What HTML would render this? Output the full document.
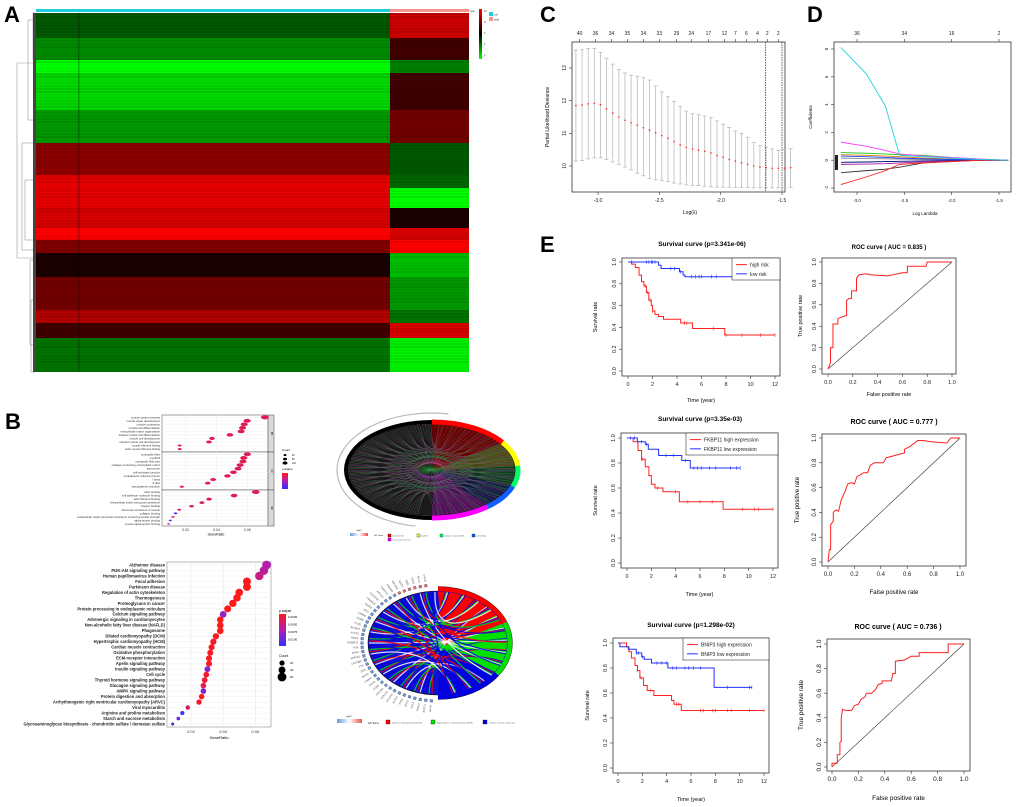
<!DOCTYPE html>
<html><head><meta charset="utf-8"><title>Figure</title>
<style>html,body{margin:0;padding:0;background:#fff;}svg{display:block;}text{font-family:"Liberation Sans",sans-serif;}</style>
</head><body>
<svg id="fig" xmlns="http://www.w3.org/2000/svg" width="1020" height="807" viewBox="0 0 1020 807">
<defs>
<linearGradient id="hmgrad" x1="0" y1="0" x2="0" y2="1"><stop offset="0" stop-color="#ff0000"/><stop offset="0.5" stop-color="#000"/><stop offset="1" stop-color="#00ff00"/></linearGradient>
<linearGradient id="pgrad" x1="0" y1="0" x2="0" y2="1"><stop offset="0" stop-color="#ff1a1a"/><stop offset="0.5" stop-color="#b01fb0"/><stop offset="1" stop-color="#3030ff"/></linearGradient>
<linearGradient id="fcgrad" x1="0" y1="0" x2="1" y2="0"><stop offset="0" stop-color="#6a9be8"/><stop offset="0.5" stop-color="#fff"/><stop offset="1" stop-color="#f05050"/></linearGradient>
</defs>
<text x="4" y="22" font-size="22" font-weight="bold">A</text>
<text x="540" y="22" font-size="22" font-weight="bold">C</text>
<text x="807" y="22" font-size="22" font-weight="bold">D</text>
<text x="540" y="252" font-size="22" font-weight="bold">E</text>
<text x="5" y="429" font-size="22" font-weight="bold">B</text>
</svg>
<script>
/* ---------- DATA ---------- */
const hmBandStart=[13,38,60,73,110,143,175,188,208,228,240,253,277,310,323,338];
const hmBandEnd=[38,60,73,110,143,175,188,208,228,240,253,277,310,323,338,372];
const hmLeftVal=[-0.35,-0.55,-1,-0.85,-0.6,0.55,0.9,0.9,0.85,1,0.5,0.1,0.45,0.7,0.25,-0.45];
const hmRightVal=[0.8,0.25,-0.5,0.25,0.45,-0.35,-0.4,-1,0.1,0.85,1,-0.75,-0.6,-0.45,0.85,-0.95];
const cvLambda=[-3.18,-3.13,-3.08,-3.03,-2.98,-2.93,-2.88,-2.83,-2.78,-2.73,-2.68,-2.63,-2.58,-2.53,-2.48,-2.43,-2.38,-2.33,-2.28,-2.23,-2.18,-2.13,-2.08,-2.03,-1.98,-1.93,-1.88,-1.83,-1.78,-1.73,-1.68,-1.63,-1.58,-1.53,-1.48,-1.43];
const cvMean=[11.85,11.87,11.9,11.92,11.88,11.75,11.62,11.5,11.4,11.32,11.25,11.17,11.1,11.02,10.93,10.85,10.75,10.65,10.57,10.52,10.48,10.45,10.4,10.32,10.27,10.2,10.15,10.1,10.05,10.0,9.97,9.95,9.93,9.93,9.93,9.95];
const cvUpper=[13.55,13.56,13.6,13.6,13.48,13.3,13.12,12.95,12.85,12.78,12.75,12.7,12.63,12.45,12.27,12.12,11.98,11.82,11.68,11.6,11.57,11.53,11.48,11.38,11.28,11.18,11.07,11.0,10.88,10.72,10.62,10.58,10.52,10.48,10.5,10.53];
const cvLower=[10.15,10.17,10.22,10.25,10.25,10.2,10.12,10.05,9.97,9.88,9.78,9.7,9.62,9.58,9.56,9.52,9.48,9.45,9.42,9.4,9.4,9.38,9.36,9.35,9.35,9.35,9.35,9.34,9.34,9.33,9.33,9.33,9.33,9.33,9.33,9.35];
const cvTopLabels=["40","36","34","35","34","33","29","24","17","12","7","6","4","2","2"];
const cvTopLambda=[-3.15,-3.02,-2.89,-2.76,-2.63,-2.5,-2.36,-2.24,-2.1,-1.97,-1.88,-1.79,-1.70,-1.62,-1.53];
const cvCutLambda=[-1.633,-1.50];
const dLambda=[-3.17,-2.9,-2.7,-2.55,-2.3,-2.0,-1.7,-1.4];
const dCyan=[8.1,6.2,3.9,0.35,0.25,0.15,0.05,0];
const dPink=[1.3,1.0,0.7,0.45,0.3,0.2,0.08,0];
const dRed=[-1.75,-1.2,-0.75,-0.3,-0.2,-0.1,0,0];
const dBlack=[-0.9,-0.75,-0.65,-0.5,-0.2,-0.1,0,0];
const dGreen=[0.55,0.5,0.45,0.4,0.35,0.2,0.08,0];
const dBlue=[0.3,0.25,0.2,0.15,0.1,0.05,0.02,0];
const dPurple=[-0.3,-0.28,-0.25,-0.2,-0.12,-0.06,-0.02,0];
const dGray=[0.15,0.12,0.1,0.08,0.05,0.03,0.01,0];
const dNavy=[-0.15,-0.13,-0.1,-0.08,-0.05,-0.03,-0.01,0];
const dOrange=[0.4,0.35,0.3,0.25,0.15,0.08,0.03,0];
const dTopLabels=["36","34","16","2"];
const dTopLambda=[-3.0,-2.5,-2.0,-1.5];
const s1HighT=[0,0.3,0.6,0.9,1.1,1.3,1.5,1.7,1.9,2.0,2.2,2.5,2.9,4.3,5.26,7.9,12];
const s1HighS=[1,0.98,0.95,0.88,0.82,0.78,0.72,0.65,0.6,0.55,0.52,0.5,0.475,0.44,0.39,0.33,0.33];
const s1HighC=[1.4,1.6,1.8,2.0,4.6,4.8,7.0,8.0,9.3,10.8,12];
const s1LowT=[0,2.5,2.7,2.85,4.2,4.5,4.65,10.8];
const s1LowS=[1,0.97,0.94,0.94,0.91,0.88,0.865,0.865];
const s1LowC=[0.3,1.5,1.7,1.9,2.0,2.2,3.5,3.8,4.3,5.2,5.5,5.8,6,6.8,7.2,8.5,9.1,9.5,10.8];
const s2HighT=[0,0.5,0.9,1.2,1.5,1.8,2.0,2.3,2.95,4.3,7.9,12];
const s2HighS=[1,0.97,0.9,0.83,0.77,0.7,0.63,0.6,0.57,0.49,0.43,0.43];
const s2HighC=[1.2,1.3,2.5,4.0,5.0,6.0,7.0,9.5,10.5,10.8,12];
const s2LowT=[0,0.85,1.5,1.75,2.6,4.5,5.2,9.3];
const s2LowS=[1,0.97,0.95,0.91,0.86,0.82,0.76,0.76];
const s2LowC=[0.3,0.6,1.2,1.6,3.2,3.8,4.8,5.5,5.8,6.1,6.8,7.3,8.5,9.0,9.3];
const s3HighT=[0,0.7,0.9,1.1,1.4,1.6,1.8,2.1,2.4,2.95,4.4,4.6,5.2,12];
const s3HighS=[1,0.97,0.93,0.88,0.82,0.78,0.72,0.66,0.62,0.58,0.54,0.51,0.46,0.46];
const s3HighC=[1.6,1.9,2.7,4.8,5.0,6.8,7.0,7.8,8.0,9.0,9.3,10.8,12];
const s3LowT=[0,0.16,0.85,1.5,1.95,2.15,2.75,4.1,7.9,11];
const s3LowS=[1,0.97,0.95,0.92,0.89,0.87,0.84,0.8,0.645,0.645];
const s3LowC=[1.5,1.7,2.0,3.2,3.6,4.0,4.5,4.8,5.5,5.8,6.2,6.8,9.0,10.8,11];
const roc1Fpr=[0,0.01,0.02,0.02,0.04,0.04,0.08,0.08,0.12,0.15,0.15,0.17,0.19,0.19,0.23,0.23,0.25,0.3,0.35,0.48,0.6,0.64,0.64,0.79,0.8,0.86,1];
const roc1Tpr=[0,0.03,0.06,0.2,0.2,0.42,0.42,0.47,0.49,0.5,0.64,0.66,0.66,0.73,0.73,0.85,0.88,0.89,0.88,0.87,0.9,0.9,0.96,0.96,1.0,1.0,1];
const roc2Fpr=[0,0.01,0.02,0.02,0.04,0.04,0.06,0.08,0.1,0.13,0.15,0.18,0.2,0.22,0.24,0.27,0.3,0.32,0.35,0.42,0.44,0.58,0.58,0.62,0.68,0.72,0.78,0.9,0.93,1];
const roc2Tpr=[0,0.1,0.1,0.3,0.33,0.4,0.42,0.41,0.5,0.57,0.63,0.64,0.63,0.69,0.7,0.72,0.72,0.78,0.8,0.8,0.84,0.88,0.91,0.93,0.98,0.98,0.97,0.96,1.0,1];
const roc3Fpr=[0,0,0.04,0.04,0.06,0.06,0.07,0.07,0.08,0.1,0.15,0.17,0.2,0.22,0.25,0.26,0.3,0.33,0.35,0.38,0.38,0.45,0.46,0.48,0.48,0.55,0.6,0.66,0.66,0.88,0.88,1];
const roc3Tpr=[0,0.03,0.03,0.1,0.1,0.2,0.21,0.4,0.47,0.46,0.46,0.5,0.51,0.55,0.57,0.6,0.6,0.63,0.67,0.68,0.7,0.7,0.76,0.76,0.86,0.87,0.9,0.9,0.93,0.93,1.0,1];
const goTerms=["muscle system process","muscle organ development","muscle contraction","muscle cell differentiation","extracellular matrix organization","striated muscle cell differentiation","muscle cell development","striated muscle cell development","muscle filament sliding","actin-myosin filament sliding","contractile fiber","myofibril","contractile fiber part","collagen-containing extracellular matrix","sarcomere","cell-substrate junction","endoplasmic reticulum lumen","I band","Z disc","sarcoplasmic reticulum","actin binding","cell adhesion molecule binding","actin filament binding","extracellular matrix structural constituent","integrin binding","structural constituent of muscle","collagen binding","extracellular matrix structural constituent conferring tensile strength","alpha-actinin binding","muscle alpha-actinin binding"];
const goRatio=[0.0714,0.0599,0.058,0.0569,0.056,0.0487,0.0371,0.0351,0.0161,0.0161,0.0600,0.0577,0.0572,0.0553,0.0540,0.0510,0.0471,0.0378,0.0343,0.0175,0.0655,0.0514,0.0352,0.0305,0.0238,0.0158,0.0134,0.0117,0.0100,0.0089];
const goPadj=[0.2,0.2,0.2,0.2,0.2,0.2,0.2,0.2,0.2,0.2,0.2,0.2,0.2,0.2,0.2,0.2,0.2,0.2,0.2,0.2,0.2,0.2,0.2,0.2,0.25,0.3,0.9,0.3,0.95,0.45];
const goCount=[110,92,89,87,86,75,57,54,25,25,92,89,88,85,83,78,72,58,53,27,101,79,54,47,37,24,21,18,15,14];
const goFacets=["BP","CC","MF"];
const kgTerms=["Alzheimer disease","PI3K-Akt signaling pathway","Human papillomavirus infection","Focal adhesion","Parkinson disease","Regulation of actin cytoskeleton","Thermogenesis","Proteoglycans in cancer","Protein processing in endoplasmic reticulum","Calcium signaling pathway","Adrenergic signaling in cardiomyocytes","Non-alcoholic fatty liver disease (NAFLD)","Phagosome","Dilated cardiomyopathy (DCM)","Hypertrophic cardiomyopathy (HCM)","Cardiac muscle contraction","Oxidative phosphorylation","ECM-receptor interaction","Apelin signaling pathway","Insulin signaling pathway","Cell cycle","Thyroid hormone signaling pathway","Glucagon signaling pathway","AMPK signaling pathway","Protein digestion and absorption","Arrhythmogenic right ventricular cardiomyopathy (ARVC)","Viral myocarditis","Arginine and proline metabolism","Starch and sucrose metabolism","Glycosaminoglycan biosynthesis - chondroitin sulfate / dermatan sulfate"];
const kgRatio=[0.067,0.0654,0.0625,0.0548,0.0548,0.050,0.0486,0.046,0.0428,0.040,0.0382,0.0382,0.0382,0.0355,0.0339,0.0328,0.032,0.0312,0.0312,0.0302,0.0295,0.0285,0.0277,0.0277,0.0266,0.025,0.018,0.0146,0.0121,0.0086];
const kgPadj=[0.0055,0.005,0.0042,0.001,0.001,0.001,0.001,0.001,0.001,0.0065,0.001,0.001,0.001,0.0015,0.0015,0.0012,0.0012,0.0012,0.0015,0.007,0.0015,0.002,0.0025,0.0072,0.001,0.0015,0.0035,0.0098,0.0085,0.0088];
const kgCount=[64,62,59,52,52,48,46,44,41,38,36,36,36,34,32,31,30,30,30,29,28,27,26,26,25,24,17,14,11,8];

/* ---------- HELPERS ---------- */
const NS='http://www.w3.org/2000/svg';
const svg=document.getElementById('fig');
function mk(tag,attrs,parent){const e=document.createElementNS(NS,tag);for(const k in attrs)e.setAttribute(k,attrs[k]);(parent||svg).appendChild(e);return e;}
function txt(x,y,s,fs,opts,parent){const e=mk('text',Object.assign({x:x,y:y,'font-size':fs},opts||{}),parent);e.textContent=s;return e;}
function lin(d0,d1,r0,r1){return v=>r0+(v-d0)/(d1-d0)*(r1-r0);}
function grp(name){const g=mk('g',{});return g;}
function hmColor(v){if(v>=0)return 'rgb('+Math.round(255*v)+',0,0)';return 'rgb(0,'+Math.round(-255*v)+',0)';}
function padjColor(t){t=Math.max(0,Math.min(1,t));const a=[255,26,26],b=[176,31,176],c=[48,48,255];let r;if(t<0.5){const u=t/0.5;r=a.map((x,i)=>x+(b[i]-x)*u);}else{const u=(t-0.5)/0.5;r=b.map((x,i)=>x+(c[i]-x)*u);}return 'rgb('+r.map(Math.round).join(',')+')';}

function rAxes(g,box,xs,ys,xticks,yticks,fs,xfmt,yfmt){
  const r=mk('rect',{x:box.x0,y:box.y0,width:box.x1-box.x0,height:box.y1-box.y0,fill:'none',stroke:'#333','stroke-width':0.8},g);
  
  xticks.forEach(v=>{const X=xs(v);
    const t=mk('line',{x1:X,x2:X,y1:box.y1,y2:box.y1+3,stroke:'#333','stroke-width':0.6},g);
    
    const l=txt(X,box.y1+10,xfmt(v),fs,{'text-anchor':'middle',fill:'#222'},g);
    });
  yticks.forEach(v=>{const Y=ys(v);
    const t=mk('line',{x1:box.x0-3,x2:box.x0,y1:Y,y2:Y,stroke:'#333','stroke-width':0.6},g);
    
    const l=txt(box.x0-6,Y,yfmt(v),fs,{'text-anchor':'middle',transform:'rotate(-90 '+(box.x0-6)+' '+Y+')',fill:'#222'},g);
    });
}
function stepPath(T,S,xs,ys){let d='M'+xs(T[0])+' '+ys(S[0]);for(let i=1;i<T.length;i++){d+=' H'+xs(T[i])+' V'+ys(S[i]);}return d;}
function survAt(T,S,t){let s=S[0];for(let i=0;i<T.length;i++){if(T[i]<=t)s=S[i];}return s;}

/* ---------- A: HEATMAP ---------- */
(function(){
  const g=grp('heatmap-panel');
  const xL0=36,xSplit=390,xR1=469;
  const bar1=mk('rect',{x:xL0,y:9,width:xSplit-xL0,height:3,fill:'#1fcfdc'},g);
  
  const bar2=mk('rect',{x:xSplit,y:9,width:xR1-xSplit,height:3,fill:'#f79490'},g);
  
  for(let i=0;i<hmLeftVal.length;i++){
    const y0=hmBandStart[i],y1=hmBandEnd[i];
    const a=mk('rect',{x:xL0,y:y0,width:xSplit-xL0,height:y1-y0,fill:hmColor(hmLeftVal[i])},g);
    
    const b=mk('rect',{x:xSplit,y:y0,width:xR1-xSplit,height:y1-y0,fill:hmColor(hmRightVal[i])},g);
    
  }
  for(let y=14;y<372;y+=3){const op=0.05+((y*7)%5)*0.04;const s=mk('line',{x1:xL0,x2:xR1,y1:y,y2:y,stroke:'#000','stroke-opacity':op,'stroke-width':1},g);}
  const col=mk('rect',{x:78,y:13,width:1.5,height:359,fill:'#000','fill-opacity':0.25},g);
  
  const dd=[[17,63,258],[22,143,250],[25,180,240],[28,20,120],[30,260,345],[31,300,372],[33,13,60]];
  dd.forEach(v=>{const l=mk('line',{x1:v[0],x2:v[0],y1:v[1],y2:v[2],stroke:'#999','stroke-width':0.6},g);
    const h1=mk('line',{x1:v[0],x2:35,y1:v[1],y2:v[1],stroke:'#999','stroke-width':0.6},g);
    const h2=mk('line',{x1:v[0],x2:35,y1:v[2],y2:v[2],stroke:'#999','stroke-width':0.6},g);});
  const dl=mk('rect',{x:33,y:13,width:3,height:359,fill:'#444'},g);
  const lg=mk('rect',{x:479,y:9,width:3,height:50,fill:'url(#hmgrad)'},g);
  ["10","8","6","4","2"].forEach((s,i)=>{const t=txt(484,12+i*11,s,2.5,{fill:'#333'},g);});
  const tt=txt(470,12,"type",2.5,{fill:'#333'},g);
  const c1=mk('rect',{x:489,y:12,width:4,height:4,fill:'#1fcfdc'},g);
  const c2=mk('rect',{x:489,y:17,width:4,height:4,fill:'#f79490'},g);
  const t1=txt(494,15.5,"con",2.5,{fill:'#333'},g);
  const t2=txt(494,20.5,"treat",2.5,{fill:'#333'},g);
})();

/* ---------- C: CV PLOT ---------- */
(function(){
  const g=grp('lasso-cv-plot');
  const box={x0:572,x1:785,y0:42,y1:192};
  const xs=lin(-3.0,-1.5,598,782), ys=lin(10,13,166,68);
  rAxes(g,box,xs,ys,[-3.0,-2.5,-2.0,-1.5],[10,11,12,13],5,v=>v.toFixed(1),v=>String(v));
  cvTopLambda.forEach((l,i)=>{const X=xs(l);const t=mk('line',{x1:X,x2:X,y1:box.y0,y2:box.y0-3,stroke:'#333','stroke-width':0.6},g);
    const s=txt(X,35,cvTopLabels[i],5,{'text-anchor':'middle',fill:'#222'},g);});
  cvLambda.forEach((l,i)=>{const X=xs(l);
    const e=mk('line',{x1:X,x2:X,y1:ys(cvLower[i]),y2:ys(cvUpper[i]),stroke:'#bbb','stroke-width':0.8},g);
    const c1=mk('line',{x1:X-2,x2:X+2,y1:ys(cvUpper[i]),y2:ys(cvUpper[i]),stroke:'#bbb','stroke-width':0.8},g);
    const c2=mk('line',{x1:X-2,x2:X+2,y1:ys(cvLower[i]),y2:ys(cvLower[i]),stroke:'#bbb','stroke-width':0.8},g);
    const p=mk('circle',{cx:X,cy:ys(cvMean[i]),r:0.8,fill:'#ff2020'},g);});
  cvCutLambda.forEach(l=>{const X=xs(l);const v=mk('line',{x1:X,x2:X,y1:box.y0,y2:box.y1,stroke:'#222','stroke-width':0.7,'stroke-dasharray':'1.5,1'},g);});
  const yl=txt(549,117,"Partial Likelihood Deviance",5,{'text-anchor':'middle',transform:'rotate(-90 549 117)'},g);
  const xl=txt(690,214,"Log(λ)",5,{'text-anchor':'middle'},g);
})();

/* ---------- D: COEF PATHS ---------- */
(function(){
  const g=grp('lasso-coef-plot');
  const box={x0:834,x1:1011,y0:42,y1:192};
  const xs=lin(-3.0,-1.5,857,999), ys=lin(8,-2,49,188);
  rAxes(g,box,xs,ys,[-3.0,-2.5,-2.0,-1.5],[-2,0,2,4,6,8],4.5,v=>v.toFixed(1),v=>String(v));
  dTopLambda.forEach((l,i)=>{const X=xs(l);const t=mk('line',{x1:X,x2:X,y1:box.y0,y2:box.y0-3,stroke:'#333','stroke-width':0.6},g);
    const s=txt(X,35,dTopLabels[i],5,{'text-anchor':'middle',fill:'#222'},g);});
  const series=[[dGray,'#888'],[dNavy,'#000080'],[dOrange,'#e08000'],[dBlue,'#2040ff'],[dPurple,'#a020a0'],[dGreen,'#22cc22'],[dBlack,'#333'],[dRed,'#ff2020'],[dPink,'#ff40ff'],[dCyan,'#20d0e0']];
  series.forEach(s=>{const pts=dLambda.map((l,i)=>xs(l)+','+ys(s[0][i])).join(' ');
    const p=mk('polyline',{points:pts,fill:'none',stroke:s[1],'stroke-width':0.9},g);});
  const bl=mk('rect',{x:835,y:155,width:3,height:15,fill:'#222'},g);
  const yl=txt(812,117,"Coefficients",4.5,{'text-anchor':'middle',transform:'rotate(-90 812 117)'},g);
  const xl=txt(925,215,"Log Lambda",4.5,{'text-anchor':'middle'},g);
})();

/* ---------- E: SURVIVAL + ROC ---------- */
function survPanel(name,box,xr,yr,high,low,title,tpos,leg,fs){
  const g=grp(name);
  const xs=lin(0,12,xr[0],xr[1]), ys=lin(0,1,yr[0],yr[1]);
  rAxes(g,box,xs,ys,[0,2,4,6,8,10,12],[0,0.2,0.4,0.6,0.8,1.0],fs,v=>String(v),v=>v.toFixed(1));
  [[high,'#ff2020','high-risk-curve'],[low,'#2030ff','low-risk-curve']].forEach(s=>{
    const p=mk('path',{d:stepPath(s[0][0],s[0][1],xs,ys),fill:'none',stroke:s[1],'stroke-width':1},g);
    
    s[0][2].forEach(t=>{const Y=ys(survAt(s[0][0],s[0][1],t)),X=xs(t);
      const c=mk('line',{x1:X,x2:X,y1:Y-1.8,y2:Y+1.8,stroke:s[1],'stroke-width':0.6},g);});
  });
  const t=txt(tpos[0],tpos[1],title,tpos[2],{'text-anchor':'middle','font-weight':'bold'},g);
  const lb=mk('rect',{x:leg.x,y:leg.y,width:leg.w,height:leg.h,fill:'#fff',stroke:'#333','stroke-width':0.6},g);
  const l1=mk('line',{x1:leg.x+4,x2:leg.x+15,y1:leg.y+leg.h*0.3,y2:leg.y+leg.h*0.3,stroke:'#ff2020','stroke-width':1},g);
  const l2=mk('line',{x1:leg.x+4,x2:leg.x+15,y1:leg.y+leg.h*0.72,y2:leg.y+leg.h*0.72,stroke:'#2030ff','stroke-width':1},g);
  const e1=txt(leg.x+18,leg.y+leg.h*0.3+2,leg.a,leg.fs,{fill:'#222'},g);
  const e2=txt(leg.x+18,leg.y+leg.h*0.72+2,leg.b,leg.fs,{fill:'#222'},g);
  const yl=txt(leg.ylx,(box.y0+box.y1)/2,"Survival rate",fs,{'text-anchor':'middle',transform:'rotate(-90 '+leg.ylx+' '+(box.y0+box.y1)/2+')'},g);
  const xl=txt((box.x0+box.x1)/2,leg.xly,"Time (year)",fs,{'text-anchor':'middle'},g);
}
function rocPanel(name,box,xr,yr,fpr,tpr,title,tpos,fs,ylx,xly){
  const g=grp(name);
  const xs=lin(0,1,xr[0],xr[1]), ys=lin(0,1,yr[0],yr[1]);
  rAxes(g,box,xs,ys,[0,0.2,0.4,0.6,0.8,1.0],[0,0.2,0.4,0.6,0.8,1.0],fs,v=>v.toFixed(1),v=>v.toFixed(1));
  const d=mk('line',{x1:xs(0),y1:ys(0),x2:xs(1),y2:ys(1),stroke:'#333','stroke-width':0.6},g);
  const p=mk('polyline',{points:fpr.map((f,i)=>xs(f)+','+ys(tpr[i])).join(' '),fill:'none',stroke:'#ff2020','stroke-width':1},g);
  const t=txt(tpos[0],tpos[1],title,tpos[2],{'text-anchor':'middle','font-weight':'bold'},g);
  const yl=txt(ylx,(box.y0+box.y1)/2,"True positive rate",fs,{'text-anchor':'middle',transform:'rotate(-90 '+ylx+' '+(box.y0+box.y1)/2+')'},g);
  const xl=txt((box.x0+box.x1)/2,xly,"False positive rate",fs,{'text-anchor':'middle'},g);
}
survPanel('survival-risk-score',{x0:622,x1:780,y0:258,y1:376},[628,775],[371,262],[s1HighT,s1HighS,s1HighC],[s1LowT,s1LowS,s1LowC],"Survival curve (p=3.341e-06)",[702,246,6.5],{x:732,y:258,w:48,h:22,a:"high risk",b:"low risk",fs:5,ylx:597,xly:402},5.5);
rocPanel('roc-risk-score',{x0:822,x1:956,y0:258,y1:374},[828,952],[369,262],roc1Fpr,roc1Tpr,"ROC curve ( AUC =  0.835 )",[889,249,6],5.5,802,396);
survPanel('survival-fkbp11',{x0:621,x1:778,y0:433,y1:568},[627,773],[563,438],[s2HighT,s2HighS,s2HighC],[s2LowT,s2LowS,s2LowC],"Survival curve (p=3.35e-03)",[700,421,6.5],{x:686,y:433,w:92,h:22,a:"FKBP11 high expression",b:"FKBP11 low expression",fs:5,ylx:597,xly:596},5.5);
rocPanel('roc-fkbp11',{x0:822,x1:966,y0:434,y1:566},[828,960],[562,438],roc2Fpr,roc2Tpr,"ROC curve ( AUC =  0.777 )",[894,424,7],6,799,594);
survPanel('survival-bnip3',{x0:613,x1:769,y0:638,y1:773},[618,764],[768,643],[s3HighT,s3HighS,s3HighC],[s3LowT,s3LowS,s3LowC],"Survival curve (p=1.298e-02)",[691,627,6.5],{x:683,y:638,w:86,h:22,a:"BNIP3 high expression",b:"BNIP3 low expression",fs:5,ylx:589,xly:801},5.5);
rocPanel('roc-bnip3',{x0:827,x1:970,y0:639,y1:771},[832,964],[767,644],roc3Fpr,roc3Tpr,"ROC curve ( AUC =  0.736 )",[898,629,7],6.5,803,800);

/* ---------- B: GO DOT PLOT ---------- */
(function(){
  const g=grp('go-dotplot');
  const xs=lin(0.02,0.06,185.7,247.3);
  const facets=[[415,452,417.3,449],[452,490,454.3,486.7],[490,526,492,524]];
  facets.forEach((f,fi)=>{
    const r=mk('rect',{x:162,y:f[0],width:106,height:f[1]-f[0],fill:'#fff',stroke:'#444','stroke-width':0.5},g);
    const s=mk('rect',{x:268,y:f[0],width:6,height:f[1]-f[0],fill:'#d9d9d9',stroke:'#444','stroke-width':0.5},g);
    const st=txt(271,(f[0]+f[1])/2,goFacets[fi],2.5,{'text-anchor':'middle',transform:'rotate(90 271 '+(f[0]+f[1])/2+')'},g);
    [0.02,0.04,0.06].forEach(v=>{const gl=mk('line',{x1:xs(v),x2:xs(v),y1:f[0],y2:f[1],stroke:'#eee','stroke-width':0.5},g);});
  });
  goTerms.forEach((term,i)=>{const fi=Math.floor(i/10),k=i%10,f=facets[fi];
    const Y=f[2]+k*(f[3]-f[2])/9;
    const gl=mk('line',{x1:162,x2:268,y1:Y,y2:Y,stroke:'#eee','stroke-width':0.4},g);
    const l=txt(160,Y+1,term,2.8,{'text-anchor':'end',fill:'#333'},g);
    const e=mk('ellipse',{cx:xs(goRatio[i]),cy:Y,rx:Math.sqrt(goCount[i])*0.38,ry:Math.sqrt(goCount[i])*0.2,fill:padjColor(goPadj[i])},g);});
  [0.02,0.04,0.06].forEach(v=>{const t=txt(xs(v),531,v.toFixed(2),3.5,{'text-anchor':'middle',fill:'#333'},g);});
  const xl=txt(216,535.5,"GeneRatio",3.5,{'text-anchor':'middle'},g);
  const ct=txt(282,451,"Count",3,{},g);
  ["40","80","120"].forEach((s,i)=>{const y=455+i*4;const c=mk('ellipse',{cx:285,cy:y,rx:1.5+i*0.5,ry:1+i*0.3,fill:'#000'},g);const t=txt(292,y+1,s,2.3,{},g);});
  const pt=txt(282,470,"p.adjust",3,{},g);
  const pb=mk('rect',{x:282,y:473,width:6,height:16,fill:'url(#pgrad)'},g);
})();

/* ---------- B: KEGG DOT PLOT ---------- */
(function(){
  const g=grp('kegg-dotplot');
  const xs=lin(0.02,0.06,191,255.3);
  const r=mk('rect',{x:167,y:562,width:104,height:165,fill:'#fff',stroke:'#777','stroke-width':0.5},g);
  [0.02,0.04,0.06].forEach(v=>{const gl=mk('line',{x1:xs(v),x2:xs(v),y1:562,y2:727,stroke:'#e8e8e8','stroke-width':0.6},g);
    const t=txt(xs(v),733,v.toFixed(2),4,{'text-anchor':'middle',fill:'#333'},g);});
  kgTerms.forEach((term,i)=>{const Y=565+i*(724-565)/29;
    const gl=mk('line',{x1:167,x2:271,y1:Y,y2:Y,stroke:'#eee','stroke-width':0.5},g);
    const l=txt(165,Y+1.4,term,4.1,{'text-anchor':'end',fill:'#222','font-weight':'bold'},g);
    const c=mk('circle',{cx:xs(kgRatio[i]),cy:Y,r:Math.sqrt(kgCount[i])*0.55,fill:padjColor((kgPadj[i]-0.001)/0.009)},g);});
  const xl=txt(219,739,"GeneRatio",4,{'text-anchor':'middle'},g);
  const pt=txt(279,612,"p.adjust",3.5,{},g);
  const pb=mk('rect',{x:279,y:614,width:7,height:32,fill:'url(#pgrad)'},g);
  ["0.0025","0.0050","0.0075","0.0100"].forEach((s,i)=>{const t=txt(288,618+i*7.5,s,3,{},g);});
  const ct=txt(279,657,"Count",3.5,{},g);
  ["20","40","60"].forEach((s,i)=>{const y=663+i*7;const c=mk('circle',{cx:282,cy:y,r:2.6+i*0.9,fill:'#000'},g);const t=txt(290,y+1.2,s,3,{},g);});
})();

/* ---------- B: CHORD DIAGRAMS ---------- */
function ep(cx,cy,rx,ry,a){const r=a*Math.PI/180;return [cx+rx*Math.cos(r),cy+ry*Math.sin(r)];}
function arcD(cx,cy,rx,ry,a0,a1){const p0=ep(cx,cy,rx,ry,a0),p1=ep(cx,cy,rx,ry,a1);return 'M'+p0[0]+' '+p0[1]+' A'+rx+' '+ry+' 0 '+((a1-a0)>180?1:0)+' 1 '+p1[0]+' '+p1[1];}
function wedge(cx,cy,rx,ry,a0,a1,c0){const p0=ep(cx,cy,rx,ry,a0),p1=ep(cx,cy,rx,ry,a1);return 'M'+c0[0]+' '+c0[1]+' L'+p0[0]+' '+p0[1]+' A'+rx+' '+ry+' 0 0 1 '+p1[0]+' '+p1[1]+' Z';}
(function(){
  const g=grp('go-chord-diagram');
  const cx=432,cy=470,rx=86,ry=48;
  const ga=mk('path',{d:arcD(cx,cy,rx+9,ry+9,100,280),fill:'none',stroke:'#bbb','stroke-width':1.2},g);
  const bg=mk('ellipse',{cx:cx,cy:cy,rx:rx-2,ry:ry-2,fill:'#1a1a1a'},g);
  const segs=[[-90,-35,'#ff0000','#6a0000'],[-35,-5,'#ffff00','#4a4a10'],[-5,20,'#00ff66','#103a20'],[20,50,'#1060ff','#101a40'],[50,90,'#ff00ff','#50105a']];
  segs.forEach(s=>{const w=mk('path',{d:wedge(cx,cy,rx-3,ry-3,s[0],s[1],[cx+2,cy]),fill:s[3]},g);});
  for(let i=0;i<90;i++){const a=100+i*1.9,b=-85+((i*37)%175);const p=ep(cx,cy,rx-3,ry-3,a),q=ep(cx,cy,rx-3,ry-3,b);
    const cols=['#30a040','#9030a0','#606060','#2a8050','#b04080'];
    const l=mk('path',{d:'M'+p[0]+' '+p[1]+' Q'+cx+' '+cy+' '+q[0]+' '+q[1],fill:'none',stroke:cols[i%5],'stroke-width':0.5,'stroke-opacity':0.7},g);}
  const br=mk('path',{d:arcD(cx,cy,rx,ry,90,270),fill:'none',stroke:'#000','stroke-width':4},g);
  segs.forEach(s=>{const a=mk('path',{d:arcD(cx,cy,rx,ry,s[0],s[1]),fill:'none',stroke:s[2],'stroke-width':5},g);});
  const lg=mk('rect',{x:350,y:533,width:18,height:3,fill:'url(#fcgrad)'},g);
  const lt=txt(359,531,"logFC",2,{'text-anchor':'middle'},g);
  const gt=txt(374,536,"GO Terms",2,{},g);
  [[388,537,'#ff0000','contractile fiber'],[417,537,'#ffff00','myofibril'],[440,537,'#00ff66','collagen-containing ECM'],[472,537,'#1060ff','actin binding'],[388,541,'#ff00ff','muscle system process']].forEach(v=>{
    const s=mk('rect',{x:v[0],y:v[1]-3,width:3,height:3,fill:v[2],stroke:'#000','stroke-width':0.3},g);
    const t=txt(v[0]+4,v[1]-0.5,v[3],1.8,{fill:'#555'},g);});
})();
(function(){
  const g=grp('kegg-chord-diagram');
  const cx=438,cy=643,rx=72,ry=54;
  const bg=mk('ellipse',{cx:cx,cy:cy,rx:rx-2,ry:ry-2,fill:'#1010d0'},g);
  const segs=[[-90,-22,'#ff0000'],[-22,35,'#00e000'],[35,90,'#0000e0']];
  segs.forEach(s=>{const w=mk('path',{d:wedge(cx,cy,rx-3,ry-3,s[0],s[1],[cx+5,cy+3]),fill:s[2]},g);});
  for(let i=0;i<70;i++){const a=95+i*2.5,b=-85+((i*53)%172);const p=ep(cx,cy,rx-3,ry-3,a),q=ep(cx,cy,rx-3,ry-3,b);
    const cols=['#ff0000','#00e000','#0000e0','#0000e0','#ffffff'];
    const l=mk('path',{d:'M'+p[0]+' '+p[1]+' Q'+(cx-5)+' '+cy+' '+q[0]+' '+q[1],fill:'none',stroke:cols[i%5],'stroke-width':1.2,'stroke-opacity':0.85},g);}
  const ring=mk('ellipse',{cx:cx,cy:cy,rx:rx-2,ry:ry-2,fill:'none',stroke:'#000','stroke-width':0.6},g);
  segs.forEach(s=>{const a=mk('path',{d:arcD(cx,cy,rx,ry,s[0],s[1]),fill:'none',stroke:s[2],'stroke-width':5},g);
    const o=mk('path',{d:arcD(cx,cy,rx+2.5,ry+2.5,s[0],s[1]),fill:'none',stroke:'#000','stroke-width':0.4},g);});
  const genes=["MYH7","ACTC1","TNNT2","MYL2","MYL3","TPM1","ACTA2","COL1A1","COL1A2","COL3A1","ITGB1","ITGA5","LAMA2","SGCD","DES","TTN","CACNB2","ATP2A2","RYR2","PLN","MYBPC3","TNNI3","ACTN2","SLC8A1","ITGA1","ITGB5","LAMB1","IGF1","TGFB3","PRKACA","CACNA1C","ATP1A2","COX7A1","UQCRB","NDUFA4","SGCG","DMD","TPM2","MYL4","MYH6"];
  genes.forEach((gn,i)=>{const a=95+i*(170/genes.length);
    const p=ep(cx,cy,rx+4,ry+4,a);
    const sq=mk('rect',{x:p[0]-1.3,y:p[1]-1.3,width:2.6,height:2.6,fill:i>33?'#f07070':'#6a9be8',stroke:'#333','stroke-width':0.3,transform:'rotate('+a+' '+p[0]+' '+p[1]+')'},g);
    const q=ep(cx,cy,rx+8,ry+8,a);
    const t=txt(q[0],q[1],gn,2.6,{'text-anchor':'end',fill:'#444',transform:'rotate('+(a-180)+' '+q[0]+' '+q[1]+')','dominant-baseline':'middle'},g);});
  const lg=mk('rect',{x:337,y:719,width:25,height:4,fill:'url(#fcgrad)'},g);
  const lt=txt(349,717,"logFC",2.2,{'text-anchor':'middle'},g);
  const gt=txt(368,724,"GO Terms",2.4,{},g);
  [[386,'#ff0000','Dilated cardiomyopathy (DCM)'],[431,'#00e000','Hypertrophic cardiomyopathy (HCM)'],[483,'#0000e0','Cardiac muscle contraction']].forEach(v=>{
    const s=mk('rect',{x:v[0],y:720,width:4,height:4,fill:v[1],stroke:'#000','stroke-width':0.3},g);
    const t=txt(v[0]+6,723.5,v[2],2.2,{fill:'#555'},g);});
})();
</script>
</body></html>
